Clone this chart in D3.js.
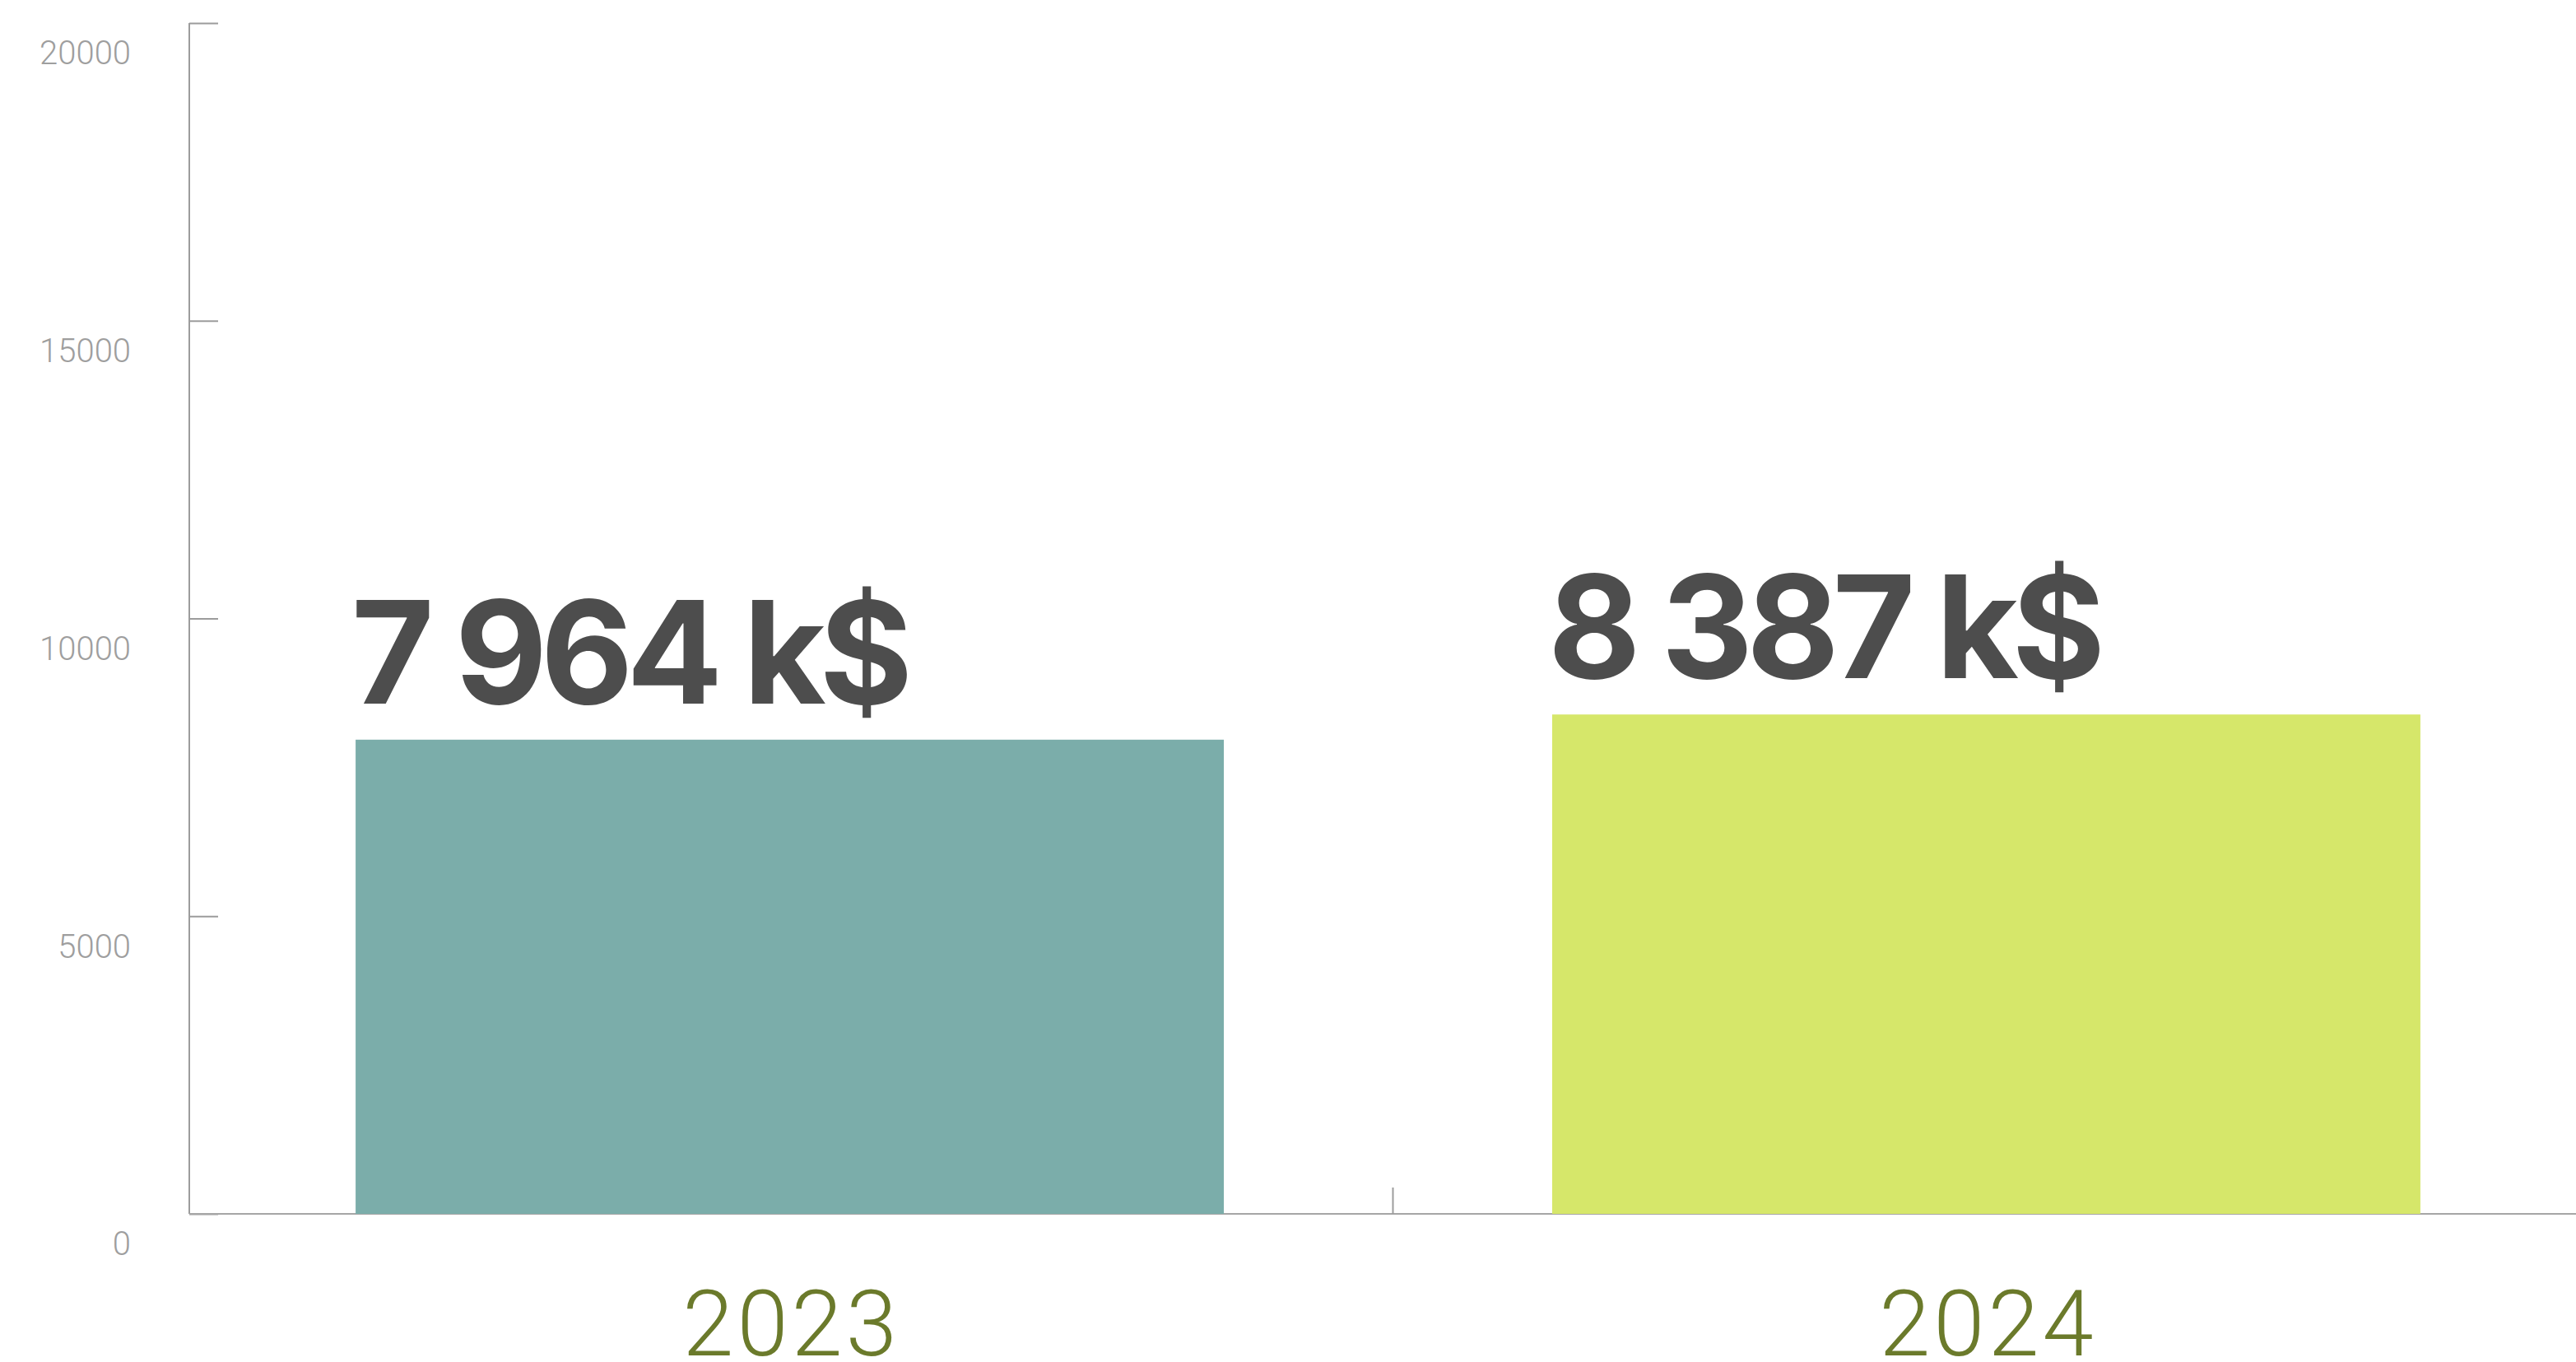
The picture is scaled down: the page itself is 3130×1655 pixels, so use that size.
<!DOCTYPE html>
<html>
<head>
<meta charset="utf-8">
<script src="https://cdn.jsdelivr.net/npm/d3@7"></script>
<style>
  html, body { margin: 0; padding: 0; background: #ffffff; }
  svg { display: block; }
</style>
</head>
<body>
<svg id="chart" width="3130" height="1655"></svg>
<script>
const years = ["2023", "2024"];
const revenue = [7964, 8387];
const valueLabels = ["7 964 k$", "8 387 k$"];
const barColors = ["#7badaa", "#d6e76a"];
const yTicks = [0, 5000, 10000, 15000, 20000];

const W = 3130, H = 1655;
const svg = d3.select("#chart");

const y = d3.scaleLinear().domain([0, 20000]).range([1475, 28]);
const x = d3.scaleBand().domain(years).range([230, 3143])
  .paddingInner(0.2744).paddingOuter(0.139);

// Y axis
const yAxis = d3.axisRight(y).tickValues(yTicks).tickSize(35).tickFormat(d3.format("d"));
const gy = svg.append("g").attr("transform", "translate(230,0)").call(yAxis);
gy.select(".domain").attr("stroke", "#9c9c9c").attr("stroke-width", 2)
  .attr("d", `M0,${y(20000)}V${y(0)}`);
gy.selectAll(".tick line").attr("stroke", "#9c9c9c").attr("stroke-width", 2);
gy.selectAll(".tick text")
  .attr("x", -71).attr("dy", "0.32em").attr("y", 37)
  .attr("text-anchor", "end")
  .attr("fill", "#9e9e9e")
  .style("font-family", "Roboto, 'Liberation Sans', sans-serif")
  .style("font-weight", 300)
  .style("font-size", "40px");

// X axis baseline
svg.append("line")
  .attr("x1", 230).attr("x2", W)
  .attr("y1", y(0)).attr("y2", y(0))
  .attr("stroke", "#a6a6a6").attr("stroke-width", 2);

// separator tick between categories
const sepX = x(years[1]) - x.step() * x.paddingInner() / 2 + 6;
svg.append("line")
  .attr("x1", sepX).attr("x2", sepX)
  .attr("y1", y(0)).attr("y2", y(0) - 32)
  .attr("stroke", "#9c9c9c").attr("stroke-width", 2);

// Bars
svg.selectAll("rect.bar").data(years).enter().append("rect")
  .attr("class", "bar")
  .attr("x", d => x(d))
  .attr("width", x.bandwidth())
  .attr("y", (d, i) => y(revenue[i]))
  .attr("height", (d, i) => y(0) - y(revenue[i]))
  .attr("fill", (d, i) => barColors[i]);

// Value labels
svg.selectAll("text.val").data(years).enter().append("text")
  .attr("class", "val")
  .attr("x", d => x(d) - 5)
  .attr("y", (d, i) => y(revenue[i]) - 44)
  .attr("fill", "#4d4d4d")
  .style("font-family", "Inter, 'Open Sans', sans-serif")
  .style("font-weight", 700)
  .style("font-size", "173px")
  .style("letter-spacing", "-8px")
  .text((d, i) => valueLabels[i]);

// Category labels
svg.selectAll("text.cat").data(years).enter().append("text")
  .attr("class", "cat")
  .attr("x", d => x(d) + x.bandwidth() / 2 + 2)
  .attr("y", 1647)
  .attr("text-anchor", "middle")
  .attr("fill", "#6b7a2b")
  .style("font-family", "Roboto, 'Liberation Sans', sans-serif")
  .style("font-weight", 300)
  .style("font-size", "112px")
  .style("letter-spacing", "4px")
  .text(d => d);
</script>
</body>
</html>
